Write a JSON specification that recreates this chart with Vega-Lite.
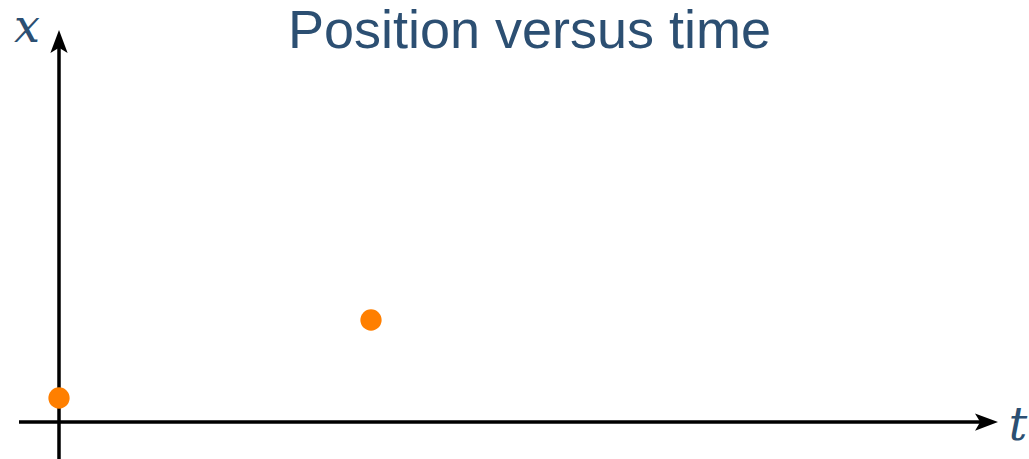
{
  "$schema": "https://vega.github.io/schema/vega-lite/v6.json",
  "width": 1029,
  "height": 459,
  "autosize": {"type": "none"},
  "padding": 0,
  "background": "white",
  "config": {"view": {"stroke": null}},
  "datasets": {
    "hline": [{"t": -40, "t2": 930, "x": 0}],
    "vline": [{"t": 0, "x": -37, "x2": 380}],
    "heads": [{"t": 927.5, "x": 0, "dir": "right"}, {"t": 0, "x": 380.5, "dir": "up"}],
    "points": [{"t": 0, "x": 24}, {"t": 312, "x": 102}],
    "labels": [{"t": -32, "x": 380, "label": "x"}, {"t": 959, "x": -18, "label": "t"}],
    "title": [{"t": 470.5, "x": 374, "label": "Position versus time"}]
  },
  "encoding": {
    "x": {"field": "t", "type": "quantitative", "scale": {"domain": [-59, 970], "nice": false, "zero": false}, "axis": null},
    "y": {"field": "x", "type": "quantitative", "scale": {"domain": [-37, 422], "nice": false, "zero": false}, "axis": null}
  },
  "layer": [
    {
      "data": {"name": "hline"},
      "mark": {"type": "rule", "color": "black", "strokeWidth": 3.5},
      "encoding": {"x2": {"field": "t2"}}
    },
    {
      "data": {"name": "vline"},
      "mark": {"type": "rule", "color": "black", "strokeWidth": 3.5},
      "encoding": {"y2": {"field": "x2"}}
    },
    {
      "data": {"name": "heads"},
      "mark": {"type": "point", "filled": true, "color": "black", "opacity": 1, "size": 529},
      "encoding": {
        "shape": {"field": "dir", "type": "nominal", "legend": null,
          "scale": {"domain": ["right", "up"], "range": ["M1,0L-1,-0.75L-0.55,0L-1,0.75Z", "M0,-1L-0.75,1L0,0.55L0.75,1Z"]}}
      }
    },
    {
      "data": {"name": "points"},
      "mark": {"type": "point", "shape": "circle", "filled": true, "color": "#ff7f00", "opacity": 1, "size": 452}
    },
    {
      "data": {"name": "labels"},
      "mark": {"type": "text", "font": "DejaVu Serif", "fontStyle": "italic", "fontSize": 46, "color": "#2c4f72", "align": "center", "baseline": "alphabetic"},
      "encoding": {"text": {"field": "label"}}
    },
    {
      "data": {"name": "title"},
      "mark": {"type": "text", "font": "Liberation Sans", "fontSize": 54, "color": "#2c4f72", "align": "center", "baseline": "alphabetic"},
      "encoding": {"text": {"field": "label"}}
    }
  ]
}
